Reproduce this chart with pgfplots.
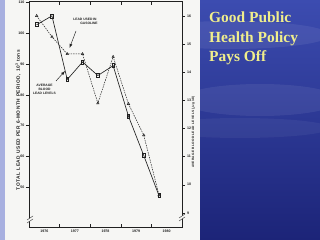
\documentclass[border=0pt]{standalone}
\usepackage{fontspec}
\setmainfont{Liberation Serif}
\setsansfont{Liberation Sans}
\usepackage{pgfplots}
\pgfplotsset{compat=1.18}
\definecolor{bgtop}{HTML}{3C4CB0}
\definecolor{bgmid}{HTML}{4A5AA8}
\definecolor{bgbot}{HTML}{1C2478}
\definecolor{strip}{HTML}{A8B0E0}
\definecolor{paper}{HTML}{F6F6F4}
\definecolor{ink}{HTML}{202020}
\definecolor{titlecol}{HTML}{F0EE8C}
\newcommand{\tk}{\fontsize{3.6}{4}\sffamily\bfseries}
\begin{document}
\begin{tikzpicture}[x=1bp,y=1bp]
\fill[top color=bgtop, middle color=bgmid, bottom color=bgbot] (0,0) rectangle (320,240);
\fill[white,opacity=0.07] (230,205) ellipse (100 and 14);
\fill[white,opacity=0.07] (260,140) ellipse (80 and 16);
\fill[white,opacity=0.05] (240,112) ellipse (90 and 10);
\fill[strip] (0,0) rectangle (5,240);
\fill[paper] (5,0) rectangle (200,240);
\begin{axis}[
  at={(29bp,13bp)}, anchor=south west, scale only axis,
  width=153bp, height=225.3bp,
  xmin=1976, xmax=1981, ymin=37.05, ymax=110.3,
  axis line style={ink, line width=0.55pt},
  xtick={1976,1977,1978,1979,1980,1981},
  x tick label as interval,
  xticklabels={1976,1977,1978,1979,1980},
  ytick={50,60,70,80,90,100,110},
  ytick pos=left,
  tick align=inside,
  major tick length=3bp,
  tick style={ink, line width=0.5pt},
  ytick style={xshift=-3bp},
  ticklabel style={font=\tk, text=ink},
  yticklabel style={xshift=-1bp},
  xticklabel style={yshift=1bp},
  /pgf/number format/assume math mode=true,
  clip=false,
]
\addplot[ink, line width=0.65pt, mark=square, mark size=1.6pt,
  mark options={solid, xscale=0.75, yscale=1.25, fill=paper}]
  coordinates {
  (1976.25,102.8) (1976.75,105.7) (1977.25,85.0) (1977.75,90.7)
  (1978.25,86.3) (1978.75,89.5) (1979.25,73.1) (1979.75,60.3) (1980.25,47.2)};
\addplot[ink, line width=0.5pt, dash pattern=on 1.5pt off 1pt, mark=triangle, mark size=1.4pt,
  mark options={solid, fill=paper}]
  coordinates {
  (1976.25,105.7) (1976.75,98.9) (1977.25,93.3) (1977.75,93.3)
  (1978.25,77.3) (1978.75,92.4) (1979.25,77.1) (1979.75,66.9) (1980.25,47.4)};
\end{axis}
\begin{axis}[
  at={(29bp,13bp)}, anchor=south west, scale only axis,
  width=153bp, height=225.3bp,
  xmin=1976, xmax=1981, ymin=8.5, ymax=16.5,
  axis x line=none,
  axis y line*=right,
  axis line style={ink, line width=0.55pt},
  ytick={9,10,11,12,13,14,15,16},
  tick align=inside,
  major tick length=3bp,
  tick style={ink, line width=0.5pt},
  ytick style={xshift=3bp},
  ticklabel style={font=\tk, text=ink},
  yticklabel style={xshift=1.5bp},
  /pgf/number format/assume math mode=true,
]
\end{axis}
% axis breaks
\fill[paper] (27,17) -- (33,21) -- (33,24) -- (27,20) -- cycle;
\draw[ink, line width=0.4pt] (27,17) -- (33,21) (27,20) -- (33,24);
\fill[paper] (179,19) -- (185,23) -- (185,26) -- (179,22) -- cycle;
\draw[ink, line width=0.4pt] (179,19) -- (185,23) (179,22) -- (185,26);
% axis titles
\node[rotate=90, font=\fontsize{4.8}{5}\sffamily\bfseries\addfontfeature{LetterSpace=12}, text=ink] at (18,120)
  {TOTAL LEAD USED PER 6-MONTH PERIOD, 10\textsuperscript{3} tons};
\node[rotate=90, font=\fontsize{3.2}{4}\sffamily\bfseries\addfontfeature{LetterSpace=10}, text=ink] at (193.5,108)
  {AVERAGE BLOOD LEAD LEVELS ($\mu$g/dl)};
% annotations
\node[font=\fontsize{3.3}{3.9}\sffamily\bfseries, text=ink, align=center] at (85,218.5)
  {LEAD USED IN\\\hspace*{8bp}GASOLINE};
\draw[ink, line width=0.45pt, -latex] (76,209) -- (69.5,192);
\node[font=\fontsize{3.3}{4.3}\sffamily\bfseries, text=ink, align=center] at (44.5,150.5)
  {AVERAGE\\BLOOD\\LEAD LEVELS};
\draw[ink, line width=0.45pt, -latex] (56,159) -- (65,169);
% title
\node[anchor=north west, font=\fontsize{15.5}{19.5}\selectfont\bfseries, text=titlecol, align=left, inner sep=0pt]
  at (209,228) {Good Public\\Health Policy\\Pays Off};
\pgfresetboundingbox
\path[use as bounding box] (0,0) rectangle (320,240);
\end{tikzpicture}
\end{document}
